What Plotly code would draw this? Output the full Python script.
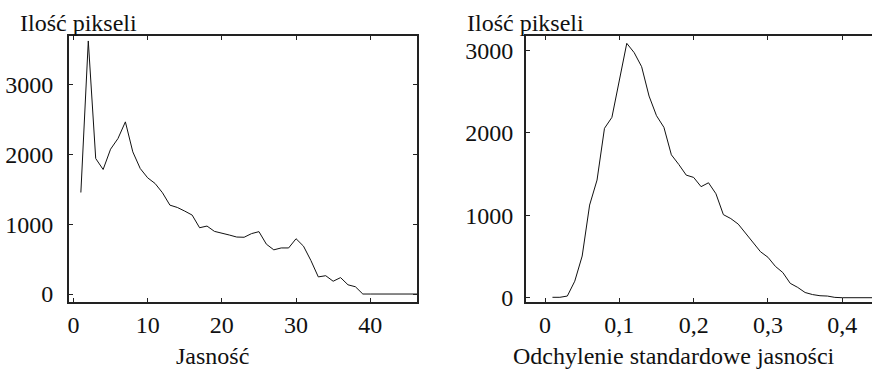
import plotly.graph_objects as go

# Left chart: brightness histogram
jasnosc = list(range(1, 48))
ilosc_jasnosc = [1452, 3619, 1938, 1781, 2071, 2224, 2462, 2033, 1795, 1662,
                 1581, 1448, 1271, 1238, 1186, 1129, 948, 972, 896, 873,
                 844, 815, 812, 864, 892, 713, 632, 659, 659, 791,
                 685, 480, 245, 262, 183, 235, 132, 104, 0, 0,
                 0, 0, 0, 0, 0, 0, 0]

# Right chart: std. deviation of brightness histogram
odchylenie = [round(0.01 * i, 2) for i in range(1, 47)]
ilosc_odch = [5, 5, 20, 200, 505, 1123, 1426, 2053, 2186, 2638,
              3083, 2970, 2800, 2444, 2206, 2065, 1732, 1615, 1486, 1458,
              1346, 1393, 1260, 1007, 959, 892, 783, 670, 557, 490,
              380, 305, 174, 125, 63, 38, 24, 20, 4, 0,
              0, 0, 0, 0, 0, 0]

left_xticks = [0, 10, 20, 30, 40]
left_xtext = ["0", "10", "20", "30", "40"]
left_yticks = [0, 1000, 2000, 3000]
left_ytext = ["0", "1000", "2000", "3000"]
right_xticks = [0, 0.1, 0.2, 0.3, 0.4]
right_xtext = ["0", "0,1", "0,2", "0,3", "0,4"]
right_yticks = [0, 1000, 2000, 3000]
right_ytext = ["0", "1000", "2000", "3000"]

FONT = "Liberation Serif"
W, H = 872, 369
FS = 24

fig = go.Figure()
fig.add_trace(go.Scatter(x=jasnosc, y=ilosc_jasnosc, mode="lines",
                         line=dict(color="#111111", width=1),
                         xaxis="x", yaxis="y", showlegend=False, hoverinfo="skip"))
fig.add_trace(go.Scatter(x=odchylenie, y=ilosc_odch, mode="lines",
                         line=dict(color="#111111", width=1),
                         xaxis="x2", yaxis="y2", showlegend=False, hoverinfo="skip"))

ydom = [1 - 302 / H, 1 - 36 / H]
axis_common = dict(showgrid=False, zeroline=False, showline=True, linecolor="#222222",
                   linewidth=2, ticks="inside", ticklen=4, tickcolor="#222222",
                   automargin=False,
                   tickfont=dict(family=FONT, size=FS, color="#111111"))

def label(text, x, y, anchor):
    return dict(text=text, x=x / W, y=1 - y / H, xref="paper", yref="paper",
                xanchor=anchor, yanchor="middle", showarrow=False,
                font=dict(family=FONT, size=FS, color="#111111"))

fig.update_layout(
    width=W, height=H,
    margin=dict(l=0, r=0, t=0, b=0),
    paper_bgcolor="white", plot_bgcolor="white",
    font=dict(family=FONT, color="#111111"),
    xaxis=dict(domain=[69 / W, 417 / W], range=[-0.6, 46.3], anchor="y",
               tickvals=left_xticks, ticktext=left_xtext, mirror="ticks",
               ticklabelstandoff=0, **axis_common),
    yaxis=dict(domain=ydom, range=[-114, 3690], anchor="x",
               tickvals=left_yticks, ticktext=left_ytext, mirror="ticks",
               ticklabelstandoff=9, **axis_common),
    xaxis2=dict(domain=[526 / W, 1.0], range=[-0.0256, 0.44], anchor="y2",
                tickvals=right_xticks, ticktext=right_xtext, mirror="ticks",
                ticklabelstandoff=0, **axis_common),
    yaxis2=dict(domain=ydom, range=[-52, 3172], anchor="x2",
                tickvals=right_yticks, ticktext=right_ytext, mirror=False,
                ticklabelstandoff=6, **axis_common),
    annotations=[
        label("Ilość pikseli", 18, 23, "left"),
        label("Ilość pikseli", 465, 23, "left"),
        label("Jasność", 212, 356, "center"),
        label("Odchylenie standardowe jasności", 674, 356, "center"),
    ],
)

fig.write_html("out.html", config={"displayModeBar": False},
               post_script="document.body.style.margin='0';")
